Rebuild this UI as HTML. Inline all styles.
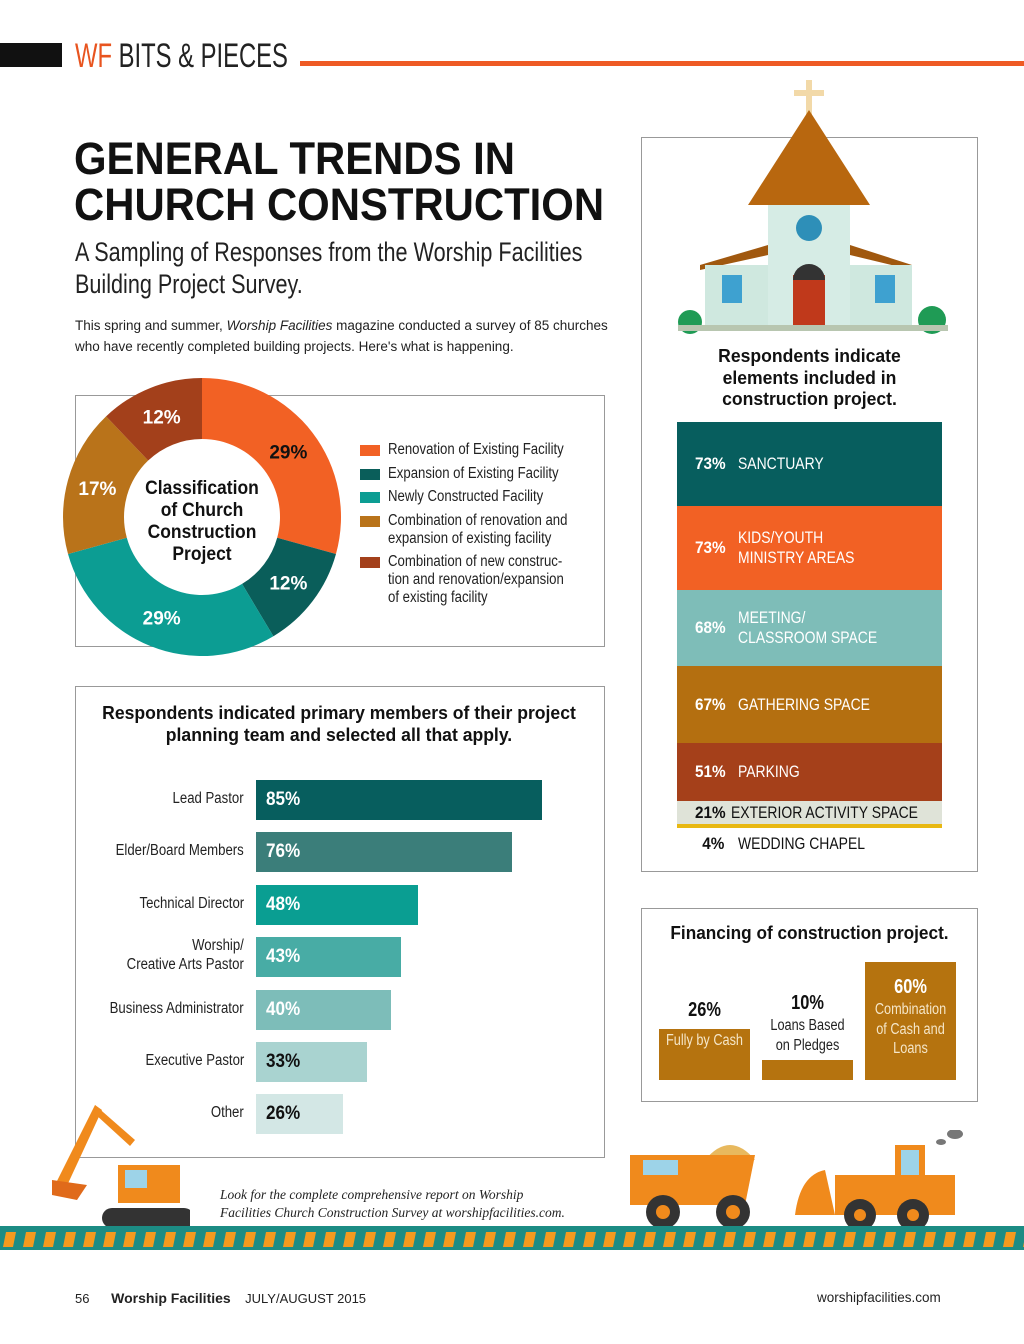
<!DOCTYPE html>
<html><head><meta charset="utf-8"><style>
body{margin:0;width:1024px;height:1344px;background:#fff;position:relative;overflow:hidden;font-family:"Liberation Sans",sans-serif;color:#111}
.a{position:absolute}
.n{white-space:nowrap}
.box{position:absolute;border:1px solid #999;background:#fff}
</style></head><body>
<div class="a" style="left:0;top:43px;width:62px;height:24px;background:#111"></div>
<div class="a n" style="left:75px;top:36px;font-size:34px;line-height:40px;color:#222;transform:scaleX(0.7);transform-origin:left"><span style="color:#e8541f">WF</span> BITS &amp; PIECES</div>
<div class="a" style="left:300px;top:61px;width:724px;height:5px;background:#ee5a24"></div>

<div class="a n" style="left:74px;top:136px;font-size:45px;line-height:46px;font-weight:900;transform:scaleX(0.93);transform-origin:left">GENERAL TRENDS IN<br>CHURCH CONSTRUCTION</div>
<div class="a n" style="left:75px;top:236px;font-size:27px;line-height:32px;color:#222;transform:scaleX(0.8);transform-origin:left">A Sampling of Responses from the Worship Facilities<br>Building Project Survey.</div>
<div class="a" style="left:75px;top:315px;font-size:13.5px;line-height:21px;color:#222">This spring and summer, <i>Worship Facilities</i> magazine conducted a survey of 85 churches<br>who have recently completed building projects. Here's what is happening.</div>

<div class="box" style="left:75px;top:395px;width:528px;height:250px"></div>
<svg class="a" style="left:0;top:0" width="640" height="680" id="donut"></svg>
<div class="a n" style="left:127px;top:478px;width:150px;text-align:center;font-size:19px;line-height:22px;font-weight:bold;transform:scaleX(0.92)">Classification<br>of Church<br>Construction<br>Project</div>
<div class="a n" id="legend" style="left:360px;top:441px;font-size:15.5px;line-height:18px;color:#222"></div>

<div class="box" style="left:75px;top:686px;width:528px;height:470px"></div>
<div class="a n" style="left:75px;top:702px;width:528px;text-align:center;font-size:18.5px;line-height:22px;font-weight:bold;transform:scaleX(0.95)">Respondents indicated primary members of their project<br>planning team and selected all that apply.</div>
<div id="bars"></div>

<div class="box" style="left:641px;top:137px;width:335px;height:733px"></div>
<svg class="a" style="left:670px;top:75px" width="290" height="260">
<rect x="136" y="5" width="6" height="40" fill="#f2d9a8"/><rect x="124" y="15" width="30" height="6" fill="#f2d9a8"/>
<polygon points="139,35 78,130 200,130" fill="#b8670f"/>
<rect x="98" y="130" width="82" height="122" fill="#d6ece5"/>
<polygon points="30,190 98,170 98,180 30,195" fill="#a0580f"/>
<polygon points="180,170 242,190 242,195 180,180" fill="#a0580f"/>
<rect x="35" y="190" width="63" height="62" fill="#cfe8df"/><rect x="180" y="190" width="62" height="62" fill="#cfe8df"/>
<circle cx="139" cy="153" r="13" fill="#2e8fb8"/>
<rect x="123" y="200" width="32" height="52" fill="#c0391b"/><path d="M123 205a16 16 0 0 1 32 0z" fill="#333"/>
<rect x="52" y="200" width="20" height="28" fill="#3ea1d0"/><rect x="205" y="200" width="20" height="28" fill="#3ea1d0"/>
<circle cx="20" cy="247" r="12" fill="#1f9b55"/><circle cx="262" cy="245" r="14" fill="#1f9b55"/>
<rect x="8" y="250" width="270" height="6" fill="#b8c6b0"/>
</svg>
<div class="a" style="left:641px;top:345px;width:337px;text-align:center;font-size:18.5px;line-height:21.5px;font-weight:bold;transform:scaleX(0.95)">Respondents indicate<br>elements included in<br>construction project.</div>
<div id="elements"></div>

<div class="box" style="left:641px;top:908px;width:335px;height:192px"></div>
<div class="a n" style="left:641px;top:922px;width:337px;text-align:center;font-size:18.5px;font-weight:bold;transform:scaleX(0.93)">Financing of construction project.</div>
<div id="fin"></div>

<svg class="a" style="left:40px;top:1090px" width="150" height="140">
<polygon points="15,95 55,15 62,20 25,100" fill="#f08a1c"/><polygon points="55,15 95,50 90,56 55,24" fill="#f08a1c"/>
<path d="M12 90 l35 5 -10 15 -25 -5z" fill="#e06a1a"/>
<rect x="78" y="75" width="62" height="38" fill="#f08a1c"/><rect x="85" y="80" width="22" height="18" fill="#9dd3e8"/>
<rect x="62" y="118" width="92" height="20" rx="10" fill="#333"/>
</svg>
<svg class="a" style="left:625px;top:1130px" width="340" height="100">
<path d="M80 30 q25 -30 50 0z" fill="#e8b95e"/>
<polygon points="5,25 130,25 120,75 5,75" fill="#f08a1c"/><rect x="18" y="30" width="35" height="15" fill="#9dd3e8"/>
<circle cx="38" cy="82" r="17" fill="#333"/><circle cx="38" cy="82" r="7" fill="#f08a1c"/>
<circle cx="108" cy="82" r="17" fill="#333"/><circle cx="108" cy="82" r="7" fill="#f08a1c"/>
<path d="M170 85 q5 -40 30 -45 l10 45z" fill="#f08a1c"/>
<rect x="210" y="45" width="120" height="40" fill="#f08a1c"/><rect x="270" y="15" width="30" height="35" fill="#f08a1c"/><rect x="276" y="20" width="18" height="25" fill="#9dd3e8"/>
<circle cx="235" cy="85" r="16" fill="#333"/><circle cx="235" cy="85" r="6" fill="#f08a1c"/>
<circle cx="288" cy="85" r="16" fill="#333"/><circle cx="288" cy="85" r="6" fill="#f08a1c"/>
<ellipse cx="330" cy="4" rx="8" ry="5" fill="#777"/><ellipse cx="316" cy="12" rx="5" ry="3" fill="#777"/>
</svg>
<div class="a" style="left:220px;top:1186px;font-family:'Liberation Serif',serif;font-style:italic;font-size:13.5px;line-height:18px;color:#222">Look for the complete comprehensive report on Worship<br>Facilities Church Construction Survey at worshipfacilities.com.</div>
<svg class="a" style="left:0;top:1226px" width="1024" height="24">
<defs><pattern id="st" width="20" height="24" patternUnits="userSpaceOnUse"><rect width="20" height="24" fill="#1c8c84"/><polygon points="6,6 16,6 13,21 3,21" fill="#f39a1e"/></pattern></defs>
<rect width="1024" height="24" fill="url(#st)"/></svg>
<div class="a" style="left:75px;top:1290px;font-size:13px;color:#222">56 &nbsp;&nbsp;&nbsp;&nbsp;&nbsp;<b style="font-size:14px">Worship Facilities</b> &nbsp;&nbsp;&nbsp;JULY/AUGUST 2015</div>
<div class="a" style="left:817px;top:1290px;font-size:13.5px;color:#222">worshipfacilities.com</div>

<script>
const sliceValues=[29,12,29,17,12];
const sliceColors=["#f26124","#0a5e5a","#0c9d93","#b9731a","#a3401b"];
const legendHtml=["Renovation of Existing Facility","Expansion of Existing Facility","Newly Constructed Facility","Combination of renovation and<br>expansion of existing facility","Combination of new construc-<br>tion and renovation/expansion<br>of existing facility"];
const svg=document.getElementById('donut');const NS='http://www.w3.org/2000/svg';
const cx=202,cy=517,R=139,r=78;const tot=sliceValues.reduce((a,b)=>a+b,0);
let a0=0;
sliceValues.forEach((v,i)=>{const a1=a0+v/tot*2*Math.PI;
 const p=(rad,a)=>[cx+rad*Math.sin(a),cy-rad*Math.cos(a)];
 const [x1,y1]=p(R,a0),[x2,y2]=p(R,a1),[x3,y3]=p(r,a1),[x4,y4]=p(r,a0);const lg=(a1-a0)>Math.PI?1:0;
 const path=document.createElementNS(NS,'path');
 path.setAttribute('d',`M${x1} ${y1}A${R} ${R} 0 ${lg} 1 ${x2} ${y2}L${x3} ${y3}A${r} ${r} 0 ${lg} 0 ${x4} ${y4}Z`);
 path.setAttribute('fill',sliceColors[i]);
 
 
 svg.appendChild(path);
 const m=(a0+a1)/2,[tx,ty]=p((R+r)/2,m);
 const t=document.createElementNS(NS,'text');t.setAttribute('x',tx);t.setAttribute('y',ty+7);t.setAttribute('text-anchor','middle');
 t.setAttribute('font-size','19');t.setAttribute('font-weight','bold');t.setAttribute('font-family','Liberation Sans, sans-serif');
 t.setAttribute('fill',i==0?'#111':'#fff');t.textContent=v+'%';
 
 
 svg.appendChild(t);a0=a1;});
const lg=document.getElementById('legend');
legendHtml.forEach((h,i)=>{const d=document.createElement('div');d.style.cssText='position:relative;padding-left:28px;margin-bottom:5.5px';
 d.innerHTML=`<span style="position:absolute;left:0;top:4px;width:20px;height:11px;background:${sliceColors[i]}"></span><span style="display:inline-block;transform:scaleX(0.85);transform-origin:left">${h}</span>`;
 
 
 lg.appendChild(d);});

const teamRoles=["Lead Pastor","Elder/Board Members","Technical Director","Worship/<br>Creative Arts Pastor","Business Administrator","Executive Pastor","Other"];
const teamValues=[85,76,48,43,40,33,26];
const teamColors=["#075e5e","#3b7e7a","#0a9e92","#48aca5","#7dbdb9","#a9d3d0","#d3e7e5"];
const bars=document.getElementById('bars');const bx=256,k=286/85;
teamValues.forEach((v,i)=>{const y=780+i*52.4;
 const b=document.createElement('div');b.className='a';b.style.cssText=`left:${bx}px;top:${y}px;width:${v*k}px;height:40px;background:${teamColors[i]}`;
 b.innerHTML=`<span style="position:absolute;left:10px;top:9px;font-size:19px;font-weight:bold;color:${i>4?'#111':'#fff'};display:inline-block;transform:scaleX(0.9);transform-origin:left">${v}%</span>`;
 
 
 bars.appendChild(b);
 const l=document.createElement('div');l.className='a n';const two=teamRoles[i].includes('<br>');
 l.style.cssText=`right:${1024-244}px;top:${y+(two?-1:9)}px;text-align:right;font-size:15.5px;line-height:19px;color:#222;transform:scaleX(0.85);transform-origin:right`;l.innerHTML=teamRoles[i];
 
 
 bars.appendChild(l);});

const elemNames=["SANCTUARY","KIDS/YOUTH<br>MINISTRY AREAS","MEETING/<br>CLASSROOM SPACE","GATHERING SPACE","PARKING","EXTERIOR ACTIVITY SPACE","WEDDING CHAPEL"];
const elemValues=[73,73,68,67,51,21,4];
const elemColors=["#075e5e","#f26124","#7ebdb8","#b46f10","#a5401a","#dfe3d8","#ffffff"];
const elemTops=[422,506,590,666,743,801,829];const elemH=[84,84,76,77,58,27,30];
const el=document.getElementById('elements');
elemValues.forEach((v,i)=>{const d=document.createElement('div');d.className='a';
 const dark=i>=5;
 d.style.cssText=`left:677px;top:${elemTops[i]}px;width:265px;height:${elemH[i]}px;background:${elemColors[i]};display:flex;align-items:center;color:${dark?'#111':'#fff'}`+(i==5?';border-bottom:4px solid #e8b812;box-sizing:border-box':'');
 d.innerHTML=`<span style="padding-left:${i==6?28:20}px;width:${i==6?33:41}px;font-size:17px;font-weight:bold;display:inline-block;transform:scaleX(0.9);transform-origin:left">${v}%</span><span class="n" style="font-size:17px;line-height:20px;display:inline-block;transform:scaleX(0.82);transform-origin:left">${elemNames[i]}</span>`;
 
 
 el.appendChild(d);});

const finLabels=["Fully by Cash","Loans Based<br>on Pledges","Combination<br>of Cash and<br>Loans"];
const finValues=[26,10,60];
const fin=document.getElementById('fin');const base=1080,fk=118/60;
finValues.forEach((v,i)=>{const x=659+i*103,h=v*fk;
 const b=document.createElement('div');b.className='a';b.style.cssText=`left:${x}px;top:${base-h}px;width:91px;height:${h}px;background:#b5730f`;
 
 
 fin.appendChild(b);
 const t=document.createElement('div');t.className='a n';
 const common=`left:${x-15}px;width:121px;text-align:center;font-size:15.5px;transform:scaleX(0.82);transform-origin:center;`;
 if(i==2){t.style.cssText=common+`top:${base-h+12}px;color:#f5e6c8;line-height:19.5px`;
  t.innerHTML=`<div style="font-size:20px;font-weight:bold;color:#fff;line-height:26px">${v}%</div>${finLabels[i]}`;}
 else if(i==0){t.style.cssText=common+`top:${base-h-32}px;line-height:19px`;
  t.innerHTML=`<div style="font-size:20px;font-weight:bold;line-height:26px;margin-bottom:8px">${v}%</div><div style="color:#f5e6c8">${finLabels[i]}</div>`;}
 else{t.style.cssText=common+`top:${base-h-70}px;line-height:19.5px;color:#222`;
  t.innerHTML=`<div style="font-size:20px;font-weight:bold;line-height:26px;color:#111">${v}%</div>${finLabels[i]}`;}
 
 
 fin.appendChild(t);});
</script>
</body></html>
